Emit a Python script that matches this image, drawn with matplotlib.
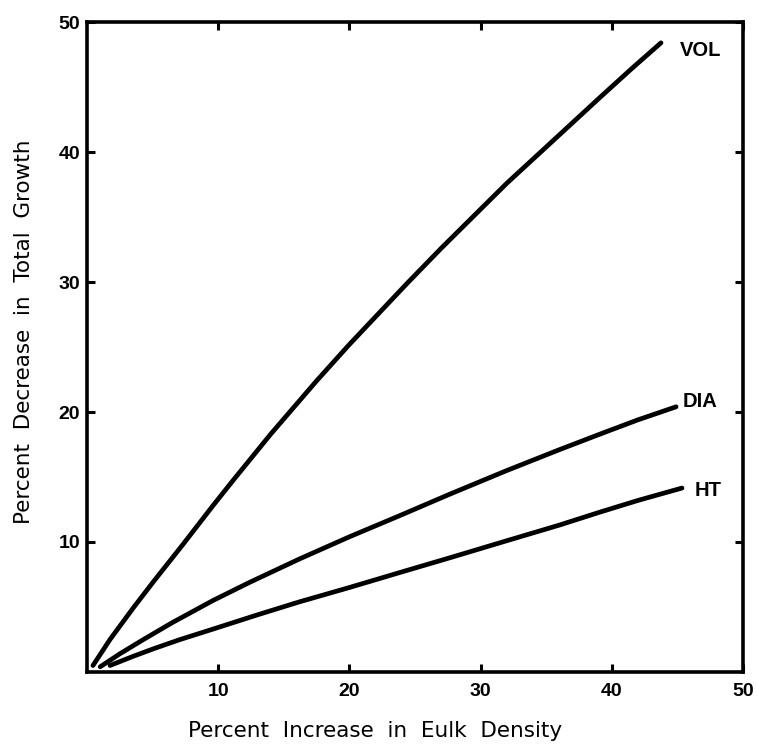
import matplotlib
matplotlib.use("Agg")
import matplotlib.pyplot as plt

# values
vol_x = [0.45, 1.75, 3.5, 5.1, 7.3, 9.6, 11.1, 14.0, 17.5, 20.0, 24.4, 27.0, 29.7, 32.0, 34.8, 39.1, 41.5, 43.75]
vol_y = [0.5, 2.5, 4.9, 7.0, 9.8, 12.8, 14.7, 18.3, 22.4, 25.2, 29.9, 32.6, 35.3, 37.6, 40.2, 44.2, 46.4, 48.4]

dia_x = [1.0, 2.5, 4.3, 6.5, 9.6, 12.4, 16.2, 20.0, 24.0, 27.7, 32.0, 36.0, 39.1, 42.0, 44.9]
dia_y = [0.4, 1.4, 2.5, 3.8, 5.5, 6.9, 8.7, 10.4, 12.1, 13.7, 15.5, 17.1, 18.3, 19.4, 20.4]

ht_x = [1.75, 3.5, 5.1, 7.1, 9.6, 13.0, 16.2, 20.0, 24.0, 27.7, 32.0, 36.0, 39.1, 42.0, 45.35]
ht_y = [0.5, 1.2, 1.8, 2.5, 3.3, 4.4, 5.4, 6.5, 7.7, 8.8, 10.1, 11.3, 12.3, 13.2, 14.15]

curve_names = ["VOL", "DIA", "HT"]
label_pos = [(45.2, 47.8), (45.4, 20.8), (46.3, 13.95)]

ticks = [10, 20, 30, 40, 50]

plt.rcParams['font.family'] = ['Liberation Sans', 'DejaVu Sans']

fig = plt.figure(figsize=(7.57, 7.46), dpi=100)
ax = fig.add_axes([0.115, 0.0992, 0.8665, 0.8713])

for xs, ys in [(vol_x, vol_y), (dia_x, dia_y), (ht_x, ht_y)]:
    ax.plot(xs, ys, color='black', lw=3.4, solid_capstyle='round', solid_joinstyle='round')

for name, (lx, ly) in zip(curve_names, label_pos):
    ax.text(lx, ly, name, fontsize=14.5, fontweight='bold', va='center', ha='left')

ax.set_xlim(0, 50)
ax.set_ylim(0, 50)
ax.set_xticks(ticks)
ax.set_yticks(ticks)
ax.set_xticklabels([str(t) for t in ticks], fontsize=14, fontweight='bold')
ax.set_yticklabels([str(t) for t in ticks], fontsize=14, fontweight='bold')
ax.tick_params(direction='in', length=6, width=2.2, top=True, right=True)
ax.tick_params(axis='y', pad=5)
ax.tick_params(axis='x', pad=8)

for s in ax.spines.values():
    s.set_linewidth(2.6)

lab_font = dict(family='DejaVu Sans', fontsize=15.5)
ax.set_xlabel("Percent  Increase  in  Eulk  Density", va='center', **lab_font)
ax.set_ylabel("Percent  Decrease  in  Total  Growth", va='center', **lab_font)
ax.xaxis.set_label_coords(0.439, -0.091)
ax.yaxis.set_label_coords(-0.096, 0.523)

fig.savefig("out.png", dpi=100)
